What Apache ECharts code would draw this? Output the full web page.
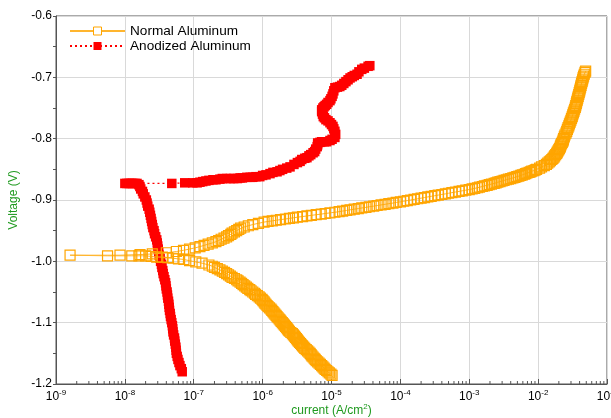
<!DOCTYPE html>
<html>
<head>
<meta charset="utf-8">
<script src="https://cdn.jsdelivr.net/npm/echarts@6/dist/echarts.min.js"></script>
<style>
  html, body { margin: 0; padding: 0; background: #fff; }
  #chart { width: 611px; height: 418px; }
</style>
</head>
<body>
<div id="chart"></div>
<script>
// Potentiodynamic polarisation (Tafel) scans: [current density A/cm2, potential V], in scan order.
const normalAl = [
  [1.02e-5,-1.186],[9.8e-6,-1.184],[9.3e-6,-1.182],[8.9e-6,-1.180],[8.5e-6,-1.178],[8.1e-6,-1.176],
  [7.8e-6,-1.174],[7.5e-6,-1.172],[7.2e-6,-1.170],[6.9e-6,-1.168],[6.6e-6,-1.166],[6.3e-6,-1.164],
  [6.0e-6,-1.162],[5.8e-6,-1.160],[5.6e-6,-1.158],[5.4e-6,-1.156],[5.2e-6,-1.154],[5.05e-6,-1.152],
  [4.9e-6,-1.150],[4.7e-6,-1.148],[4.5e-6,-1.146],[4.3e-6,-1.144],[4.1e-6,-1.142],[3.95e-6,-1.140],
  [3.8e-6,-1.138],[3.67e-6,-1.136],[3.55e-6,-1.134],[3.43e-6,-1.132],[3.3e-6,-1.130],[3.2e-6,-1.128],
  [3.1e-6,-1.126],[3.0e-6,-1.124],[2.9e-6,-1.122],[2.8e-6,-1.120],[2.7e-6,-1.118],[2.57e-6,-1.116],
  [2.45e-6,-1.114],[2.37e-6,-1.112],[2.3e-6,-1.110],[2.22e-6,-1.108],[2.15e-6,-1.106],[2.07e-6,-1.104],
  [2.0e-6,-1.102],[1.93e-6,-1.100],[1.86e-6,-1.098],[1.8e-6,-1.096],[1.74e-6,-1.094],[1.68e-6,-1.092],
  [1.62e-6,-1.090],[1.57e-6,-1.088],[1.51e-6,-1.086],[1.46e-6,-1.084],[1.41e-6,-1.082],[1.36e-6,-1.080],
  [1.32e-6,-1.078],[1.26e-6,-1.076],[1.2e-6,-1.074],[1.16e-6,-1.072],[1.12e-6,-1.070],[1.08e-6,-1.068],
  [1.05e-6,-1.066],[1.01e-6,-1.064],[9.8e-7,-1.062],[9.3e-7,-1.060],[8.9e-7,-1.058],[8.4e-7,-1.056],
  [7.9e-7,-1.054],[7.6e-7,-1.052],[7.2e-7,-1.050],[6.8e-7,-1.048],[6.5e-7,-1.046],[6.1e-7,-1.044],
  [5.8e-7,-1.042],[5.5e-7,-1.040],[5.2e-7,-1.038],[4.95e-7,-1.036],[4.7e-7,-1.034],[4.4e-7,-1.032],
  [4.2e-7,-1.030],[3.9e-7,-1.028],[3.6e-7,-1.026],[3.4e-7,-1.024],[3.2e-7,-1.022],[3.0e-7,-1.020],
  [2.8e-7,-1.018],[2.6e-7,-1.016],[2.4e-7,-1.014],[2.2e-7,-1.012],[2.0e-7,-1.010],[1.86e-7,-1.008],
  [1.66e-7,-1.006],[1.32e-7,-1.003],[1.07e-7,-1.001],
  [8.7e-8,-0.999],[7.2e-8,-0.997],[6.0e-8,-0.996],[5.0e-8,-0.995],[4.2e-8,-0.994],[3.5e-8,-0.993],
  [2.9e-8,-0.993],[2.4e-8,-0.992],[2.0e-8,-0.991],[1.6e-8,-0.991],[1.26e-8,-0.991],[5.6e-9,-0.991],
  [1.6e-9,-0.990],
  [8.5e-9,-0.990],[1.66e-8,-0.989],[2.5e-8,-0.988],[4.0e-8,-0.986],
  [5.6e-8,-0.984],[7.1e-8,-0.982],[8.7e-8,-0.980],[1.05e-7,-0.978],[1.23e-7,-0.976],[1.41e-7,-0.974],
  [1.62e-7,-0.972],[1.86e-7,-0.970],[2.1e-7,-0.968],[2.3e-7,-0.966],[2.5e-7,-0.964],[2.75e-7,-0.962],
  [3.0e-7,-0.960],[3.2e-7,-0.958],[3.45e-7,-0.956],[3.6e-7,-0.954],[3.9e-7,-0.952],[4.2e-7,-0.950],
  [4.5e-7,-0.948],[4.8e-7,-0.946],[5.4e-7,-0.944],[6.2e-7,-0.942],[7.2e-7,-0.940],[8.7e-7,-0.938],
  [1.05e-6,-0.936],[1.2e-6,-0.935],[1.38e-6,-0.934],[1.58e-6,-0.933],[1.82e-6,-0.932],[2.14e-6,-0.931],
  [2.45e-6,-0.930],[2.8e-6,-0.929],[3.2e-6,-0.928],[3.8e-6,-0.927],[4.4e-6,-0.926],[5.1e-6,-0.925],
  [6.0e-6,-0.924],[7.1e-6,-0.923],[8.1e-6,-0.922],[9.5e-6,-0.921],[1.12e-5,-0.920],[1.29e-5,-0.919],
  [1.45e-5,-0.918],[1.66e-5,-0.917],[1.86e-5,-0.916],[2.14e-5,-0.915],[2.45e-5,-0.914],[2.75e-5,-0.913],
  [3.16e-5,-0.912],[3.55e-5,-0.911],[4.1e-5,-0.910],[4.6e-5,-0.909],[5.25e-5,-0.908],[6.0e-5,-0.907],
  [6.8e-5,-0.906],[7.8e-5,-0.905],[8.7e-5,-0.904],[1.0e-4,-0.903],[1.12e-4,-0.902],[1.26e-4,-0.901],
  [1.41e-4,-0.900],[1.58e-4,-0.899],[1.78e-4,-0.898],[2.0e-4,-0.897],[2.24e-4,-0.896],[2.5e-4,-0.895],
  [2.8e-4,-0.894],[3.16e-4,-0.893],[3.55e-4,-0.892],[4.0e-4,-0.891],[4.5e-4,-0.890],[5.0e-4,-0.889],
  [5.6e-4,-0.888],[6.3e-4,-0.887],[7.1e-4,-0.886],[7.9e-4,-0.885],[8.9e-4,-0.884],[1.0e-3,-0.883],
  [1.1e-3,-0.882],[1.2e-3,-0.881],[1.32e-3,-0.880],[1.41e-3,-0.879],[1.55e-3,-0.878],[1.66e-3,-0.877],
  [1.82e-3,-0.876],[1.95e-3,-0.875],[2.1e-3,-0.874],[2.3e-3,-0.873],[2.45e-3,-0.872],[2.6e-3,-0.871],
  [2.8e-3,-0.870],[3.0e-3,-0.869],[3.2e-3,-0.868],[3.45e-3,-0.867],[3.7e-3,-0.866],[4.0e-3,-0.865],
  [4.3e-3,-0.864],[4.6e-3,-0.863],[4.9e-3,-0.862],[5.25e-3,-0.861],[5.6e-3,-0.860],[5.9e-3,-0.859],
  [6.3e-3,-0.858],[6.6e-3,-0.857],[6.9e-3,-0.856],[7.4e-3,-0.855],[7.8e-3,-0.854],[8.1e-3,-0.853],
  [8.7e-3,-0.852],[9.1e-3,-0.851],[9.5e-3,-0.850],[1.05e-2,-0.848],[1.12e-2,-0.846],[1.23e-2,-0.844],
  [1.32e-2,-0.842],[1.38e-2,-0.840],[1.45e-2,-0.838],[1.51e-2,-0.836],[1.58e-2,-0.834],[1.64e-2,-0.832],
  [1.7e-2,-0.830],[1.74e-2,-0.828],[1.8e-2,-0.826],[1.86e-2,-0.824],[1.9e-2,-0.822],[1.95e-2,-0.820],
  [2.0e-2,-0.818],[2.04e-2,-0.816],[2.09e-2,-0.814],[2.11e-2,-0.812],[2.14e-2,-0.810],[2.19e-2,-0.808],
  [2.24e-2,-0.806],[2.29e-2,-0.804],[2.32e-2,-0.802],[2.34e-2,-0.800],[2.4e-2,-0.797],[2.45e-2,-0.794],
  [2.54e-2,-0.791],[2.6e-2,-0.788],[2.66e-2,-0.785],[2.72e-2,-0.782],[2.79e-2,-0.779],[2.85e-2,-0.776],
  [2.92e-2,-0.773],[2.99e-2,-0.770],[3.05e-2,-0.767],[3.13e-2,-0.764],[3.18e-2,-0.761],[3.25e-2,-0.758],
  [3.32e-2,-0.755],[3.39e-2,-0.752],[3.47e-2,-0.749],[3.52e-2,-0.746],[3.59e-2,-0.743],[3.63e-2,-0.740],
  [3.7e-2,-0.737],[3.76e-2,-0.734],[3.82e-2,-0.731],[3.89e-2,-0.728],[3.95e-2,-0.725],[4.02e-2,-0.722],
  [4.07e-2,-0.719],[4.14e-2,-0.716],[4.2e-2,-0.713],[4.27e-2,-0.710],[4.35e-2,-0.707],[4.42e-2,-0.704],
  [4.49e-2,-0.701],[4.57e-2,-0.698],[4.68e-2,-0.695],[4.79e-2,-0.692],[4.9e-2,-0.690]
];

const anodizedAl = [
  [6.8e-8,-1.180],[6.6e-8,-1.175],[6.3e-8,-1.170],[6.1e-8,-1.165],[5.9e-8,-1.160],[5.75e-8,-1.155],
  [5.6e-8,-1.150],[5.55e-8,-1.145],[5.5e-8,-1.140],[5.4e-8,-1.135],[5.3e-8,-1.130],[5.25e-8,-1.125],
  [5.1e-8,-1.120],[5.0e-8,-1.115],[4.95e-8,-1.110],[4.9e-8,-1.105],[4.8e-8,-1.100],[4.7e-8,-1.095],
  [4.6e-8,-1.090],[4.55e-8,-1.085],[4.45e-8,-1.080],[4.4e-8,-1.075],[4.35e-8,-1.070],[4.3e-8,-1.065],
  [4.2e-8,-1.060],[4.15e-8,-1.055],[4.1e-8,-1.050],[4.0e-8,-1.045],[3.95e-8,-1.040],[3.9e-8,-1.035],
  [3.8e-8,-1.030],[3.7e-8,-1.025],[3.6e-8,-1.020],[3.55e-8,-1.015],[3.45e-8,-1.010],[3.4e-8,-1.005],
  [3.3e-8,-1.000],[3.25e-8,-0.995],[3.15e-8,-0.990],[3.1e-8,-0.985],[3.05e-8,-0.980],[3.0e-8,-0.975],
  [2.95e-8,-0.970],[2.9e-8,-0.965],[2.8e-8,-0.960],[2.7e-8,-0.955],[2.65e-8,-0.950],[2.55e-8,-0.945],
  [2.5e-8,-0.940],[2.45e-8,-0.935],[2.4e-8,-0.930],[2.35e-8,-0.925],[2.3e-8,-0.920],[2.25e-8,-0.915],
  [2.15e-8,-0.910],[2.1e-8,-0.905],[2.05e-8,-0.900],[1.95e-8,-0.895],[1.85e-8,-0.890],[1.8e-8,-0.886],
  [1.7e-8,-0.882],[1.65e-8,-0.878],[1.6e-8,-0.875],[1.5e-8,-0.873],[1.4e-8,-0.873],[1.3e-8,-0.873],
  [1.23e-8,-0.873],[1.15e-8,-0.873],[1.07e-8,-0.873],[1.0e-8,-0.873],
  [4.8e-8,-0.873],[7.4e-8,-0.872],[9.7e-8,-0.872],[1.12e-7,-0.872],[1.23e-7,-0.871],[1.35e-7,-0.870],
  [1.5e-7,-0.869],[1.66e-7,-0.868],[1.9e-7,-0.867],[2.1e-7,-0.867],[2.4e-7,-0.866],[2.6e-7,-0.865],
  [3.0e-7,-0.865],[3.4e-7,-0.865],[3.8e-7,-0.865],[4.3e-7,-0.865],[4.7e-7,-0.864],[5.1e-7,-0.864],
  [5.9e-7,-0.863],[6.6e-7,-0.863],[7.2e-7,-0.863],[8.0e-7,-0.862],[9.1e-7,-0.862],[1.0e-6,-0.860],
  [1.12e-6,-0.859],[1.28e-6,-0.857],[1.41e-6,-0.855],[1.62e-6,-0.854],[1.78e-6,-0.852],[1.95e-6,-0.850],
  [2.24e-6,-0.848],[2.5e-6,-0.846],[2.85e-6,-0.842],[3.2e-6,-0.839],[3.5e-6,-0.837],[3.7e-6,-0.834],
  [4.1e-6,-0.832],[4.4e-6,-0.831],[4.7e-6,-0.828],[5.0e-6,-0.826],[5.4e-6,-0.823],[5.7e-6,-0.821],
  [5.9e-6,-0.817],[6.2e-6,-0.813],[6.3e-6,-0.810],[6.3e-6,-0.807],[6.8e-6,-0.806],[7.2e-6,-0.805],
  [7.9e-6,-0.805],[8.5e-6,-0.805],[9.5e-6,-0.803],[1.02e-5,-0.801],[1.12e-5,-0.798],[1.15e-5,-0.793],
  [1.12e-5,-0.788],[1.08e-5,-0.784],[1.05e-5,-0.780],[1.0e-5,-0.777],[9.5e-6,-0.774],[8.9e-6,-0.771],
  [8.3e-6,-0.769],[7.9e-6,-0.766],[7.6e-6,-0.764],[7.4e-6,-0.760],[7.2e-6,-0.756],[7.2e-6,-0.753],
  [7.5e-6,-0.750],[7.8e-6,-0.748],[8.1e-6,-0.746],[8.5e-6,-0.744],[8.9e-6,-0.741],[9.5e-6,-0.738],
  [9.8e-6,-0.735],[1.02e-5,-0.731],[1.05e-5,-0.727],[1.08e-5,-0.722],[1.12e-5,-0.717],[1.22e-5,-0.716],
  [1.32e-5,-0.715],[1.41e-5,-0.713],[1.51e-5,-0.710],[1.62e-5,-0.707],[1.74e-5,-0.704],[1.86e-5,-0.701],
  [2.0e-5,-0.699],[2.14e-5,-0.697],[2.35e-5,-0.695],[2.5e-5,-0.691],[2.75e-5,-0.687],[3.0e-5,-0.685],
  [3.4e-5,-0.682],[3.6e-5,-0.681]
];

const seriesNames = ['Normal Aluminum', 'Anodized Aluminum'];

// Axis ranges
const xRange = [1e-9, 1e-1];
const yRange = [-1.2, -0.6];
const yStep = 0.1;

// Logarithmic minor tick positions (2..9 x each decade)
const minorDecades = [-9, -8, -7, -6, -5, -4, -3, -2];
const minorMultipliers = [2, 3, 4, 5, 6, 7, 8, 9];
const xMinorTicks = [];
minorDecades.forEach(d => minorMultipliers.forEach(m => xMinorTicks.push([m * Math.pow(10, d), yRange[0]])));

const FONT = '"Liberation Sans", Arial, sans-serif';
const GREEN = '#1f9a1f';
const ORANGE = '#FFA500';
const RED = '#FF0000';

const chart = echarts.init(document.getElementById('chart'), null, { renderer: 'canvas' });

chart.setOption({
  animation: false,
  backgroundColor: '#fff',
  textStyle: { fontFamily: FONT },
  grid: {
    left: 56, right: 4, top: 16, bottom: 34,
    outerBoundsMode: 'none',
    containLabel: false,
    show: true, borderColor: '#555', borderWidth: 1, backgroundColor: 'transparent'
  },
  legend: {
    orient: 'vertical',
    left: 69, top: 24, padding: 0,
    itemWidth: 55, itemHeight: 10, itemGap: 1,
    textStyle: { fontFamily: FONT, fontSize: 13.6, color: '#000' },
    data: [
      { name: seriesNames[0], itemStyle: { color: '#fff', borderColor: ORANGE, borderWidth: 1 } },
      { name: seriesNames[1] }
    ]
  },
  xAxis: {
    type: 'log', logBase: 10,
    min: xRange[0], max: xRange[1],
    name: 'current (A/cm{sup|2})',
    nameLocation: 'middle', nameGap: 19, nameMoveOverlap: false,
    nameTextStyle: {
      color: GREEN, fontSize: 12, fontFamily: FONT,
      rich: { sup: { fontSize: 8, color: GREEN, padding: [0, 0, 7, 0], fontFamily: FONT } }
    },
    axisLine: { lineStyle: { color: '#555', width: 1 } },
    axisTick: { inside: true, length: 5, lineStyle: { color: '#555' } },
    splitLine: { show: true, lineStyle: { color: '#d9d9d9', width: 1 } },
    axisLabel: {
      margin: 5, color: '#000', fontSize: 12, fontFamily: FONT,
      formatter: v => '10{sup|' + Math.round(Math.log10(v)) + '}',
      rich: { sup: { fontSize: 8, padding: [0, 0, 7, 0], color: '#000', fontFamily: FONT } }
    }
  },
  yAxis: {
    type: 'value',
    min: yRange[0], max: yRange[1], interval: yStep,
    name: 'Voltage (V)',
    nameLocation: 'middle', nameGap: 36, nameRotate: 90, nameMoveOverlap: false,
    nameTextStyle: { color: GREEN, fontSize: 12, fontFamily: FONT },
    axisLine: { show: true, lineStyle: { color: '#555', width: 1 } },
    axisTick: { show: true, inside: false, length: 3, lineStyle: { color: '#555' } },
    minorTick: { show: true, splitNumber: 2, length: 3, lineStyle: { color: '#555' } },
    splitLine: { show: true, lineStyle: { color: '#d9d9d9', width: 1 } },
    axisLabel: {
      margin: 4, color: '#000', fontSize: 12, fontFamily: FONT,
      formatter: v => v.toFixed(1)
    }
  },
  series: [
    {
      name: seriesNames[1],
      type: 'line',
      data: anodizedAl,
      symbol: 'rect', symbolSize: 9.5,
      itemStyle: { color: RED, borderColor: RED, borderWidth: 0 },
      lineStyle: { color: RED, width: 1.3, type: [2, 3] },
      z: 2
    },
    {
      name: seriesNames[0],
      type: 'line',
      data: normalAl,
      symbol: 'rect', symbolSize: 10,
      itemStyle: { color: 'rgba(255,255,255,0)', borderColor: ORANGE, borderWidth: 1.2 },
      lineStyle: { color: '#FFB52E', width: 1 },
      z: 3
    },
    {
      // log-scale minor ticks along the bottom axis
      type: 'custom',
      silent: true,
      data: xMinorTicks,
      z: 10,
      renderItem: (params, api) => {
        const p = api.coord([api.value(0), api.value(1)]);
        return {
          type: 'line',
          shape: { x1: p[0], y1: p[1], x2: p[0], y2: p[1] - 3 },
          style: { stroke: '#555', lineWidth: 1 }
        };
      }
    }
  ]
});
</script>
</body>
</html>
